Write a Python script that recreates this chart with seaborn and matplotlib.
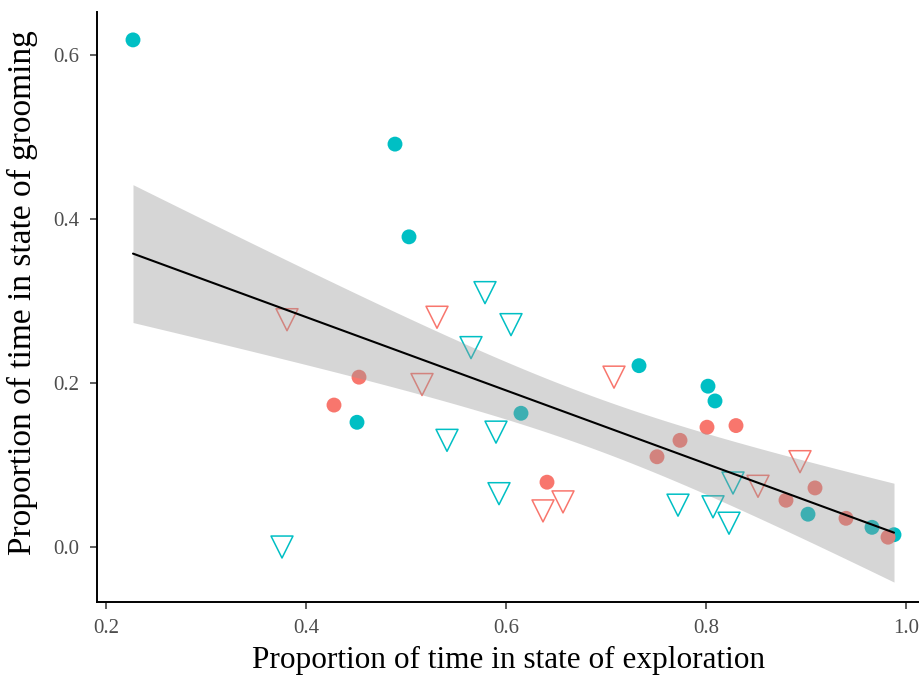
import numpy as np
import pandas as pd
import matplotlib
matplotlib.use("Agg")
import matplotlib.pyplot as plt
import seaborn as sns

# Proportion of time spent exploring vs grooming, per animal
teal_dot_x = [0.227, 0.489, 0.503, 0.451, 0.615, 0.733, 0.802, 0.809, 0.902, 0.966, 0.988]
teal_dot_y = [0.618, 0.491, 0.378, 0.152, 0.163, 0.221, 0.196, 0.178, 0.040, 0.024, 0.015]

salmon_dot_x = [0.428, 0.453, 0.641, 0.751, 0.774, 0.801, 0.830, 0.880, 0.909, 0.940, 0.982]
salmon_dot_y = [0.173, 0.207, 0.079, 0.110, 0.130, 0.146, 0.148, 0.057, 0.072, 0.035, 0.012]

teal_tri_x = [0.376, 0.579, 0.605, 0.565, 0.541, 0.590, 0.593, 0.772, 0.807, 0.823, 0.827]
teal_tri_y = [0.000, 0.310, 0.271, 0.243, 0.130, 0.140, 0.065, 0.051, 0.049, 0.029, 0.078]

salmon_tri_x = [0.381, 0.531, 0.516, 0.708, 0.637, 0.657, 0.852, 0.894]
salmon_tri_y = [0.277, 0.280, 0.198, 0.207, 0.044, 0.055, 0.074, 0.104]

x_ticks = [0.2, 0.4, 0.6, 0.8, 1.0]
y_ticks = [0.0, 0.2, 0.4, 0.6]

TEAL = "#00BFC4"
SALMON = "#F8766D"

dots = pd.DataFrame({
    "exploration": teal_dot_x + salmon_dot_x,
    "grooming": teal_dot_y + salmon_dot_y,
    "group": ["G1"] * len(teal_dot_x) + ["G2"] * len(salmon_dot_x),
})
tris = pd.DataFrame({
    "exploration": teal_tri_x + salmon_tri_x,
    "grooming": teal_tri_y + salmon_tri_y,
    "group": ["G1"] * len(teal_tri_x) + ["G2"] * len(salmon_tri_x),
})
everything = pd.concat([dots, tris], ignore_index=True)
palette = {"G1": TEAL, "G2": SALMON}

sns.set_theme(style="ticks")
plt.rcParams["font.family"] = ["Liberation Serif", "DejaVu Serif"]

fig = plt.figure(figsize=(9.2, 6.8), dpi=100)
ax = fig.add_axes([97 / 920, 78 / 680, 823 / 920, 590 / 680])

# filled circles
sns.scatterplot(data=dots, x="exploration", y="grooming", hue="group",
                palette=palette, marker="o", s=115, linewidth=0,
                legend=False, ax=ax)

# open down-pointing triangles
sns.scatterplot(data=tris, x="exploration", y="grooming", hue="group",
                palette=palette, marker="v", s=250, linewidth=1.1,
                legend=False, ax=ax)
tri_coll = ax.collections[-1]
fc = tri_coll.get_facecolors()
tri_coll.set_edgecolors(fc)
tri_coll.set_facecolors("none")

# analytic 95% confidence band of the pooled OLS fit
xv = everything["exploration"].to_numpy()
yv = everything["grooming"].to_numpy()
n = len(xv)
slope, intercept = np.polyfit(xv, yv, 1)
resid = yv - (intercept + slope * xv)
s_err = np.sqrt(np.sum(resid ** 2) / (n - 2))
grid = np.linspace(xv.min(), xv.max(), 200)
try:
    from scipy import stats
    t_crit = stats.t.ppf(0.975, n - 2)
except ImportError:
    t_crit = 2.0227  # two-sided 95% Student t, 39 d.f.
se_fit = s_err * np.sqrt(1 / n + (grid - xv.mean()) ** 2 / np.sum((xv - xv.mean()) ** 2))
fit = intercept + slope * grid
ax.fill_between(grid, fit - t_crit * se_fit, fit + t_crit * se_fit,
                facecolor="#999999", alpha=0.4, linewidth=0)

# fitted line
sns.regplot(data=everything, x="exploration", y="grooming", scatter=False,
            ci=None, color="black", line_kws={"linewidth": 1.5}, ax=ax)

ax.set_xlim(0.191, 1.014)
ax.set_ylim(-0.067, 0.652)
ax.set_xticks(x_ticks)
ax.set_yticks(y_ticks)
ax.set_xticklabels([f"{v:.1f}" for v in x_ticks])
ax.set_yticklabels([f"{v:.1f}" for v in y_ticks])

for side in ("top", "right"):
    ax.spines[side].set_visible(False)
for side in ("left", "bottom"):
    ax.spines[side].set_linewidth(1.4)
    ax.spines[side].set_color("black")

ax.tick_params(axis="both", direction="out", length=5, width=1.1,
               color="#333333", labelcolor="#4D4D4D", labelsize=15)
ax.tick_params(axis="x", pad=7)
ax.tick_params(axis="y", pad=8)

ax.set_xlabel("Proportion of time in state of exploration", fontsize=22.5,
              color="black", labelpad=6)
ax.set_ylabel("Proportion of time in state of grooming", fontsize=24,
              color="black")
ax.yaxis.set_label_coords(-0.072, 0.524)

fig.savefig("out.png", dpi=100)
